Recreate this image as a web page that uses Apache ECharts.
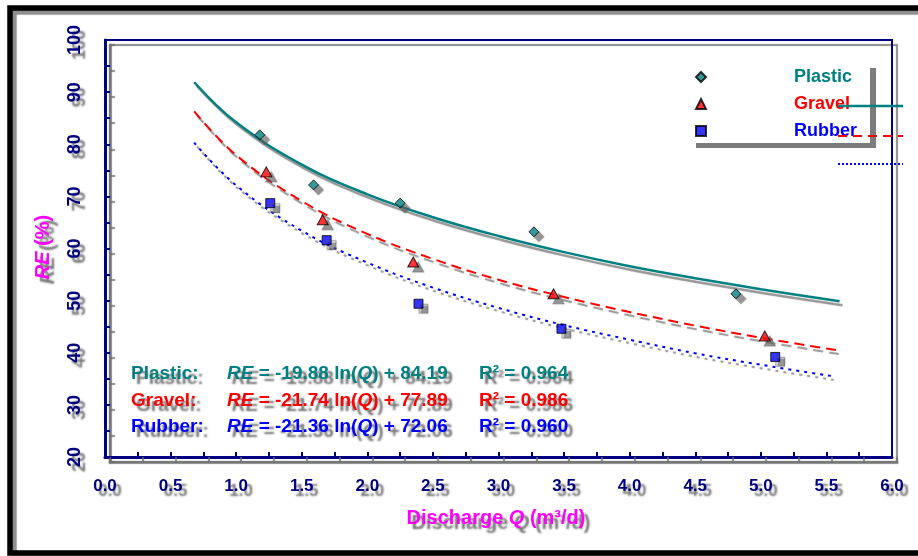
<!DOCTYPE html>
<html>
<head>
<meta charset="utf-8">
<script src="https://cdn.jsdelivr.net/npm/echarts@6/dist/echarts.min.js"></script>
<style>
html,body{margin:0;padding:0;background:#fff;}
#chart{width:918px;height:556px;}
</style>
</head>
<body>
<div id="chart"></div>
<script>
// ---- data ----
const seriesNames = ['Plastic', 'Gravel', 'Rubber'];
const plasticQ  = [1.18, 1.59, 2.25, 3.27, 4.81];
const plasticRE = [81.8, 72.2, 68.7, 63.2, 51.3];
const gravelQ   = [1.23, 1.66, 2.35, 3.42, 5.03];
const gravelRE  = [74.7, 65.5, 57.4, 51.3, 43.2];
const rubberQ   = [1.26, 1.69, 2.39, 3.48, 5.11];
const rubberRE  = [68.7, 61.6, 49.4, 44.6, 39.2];

// trend curves
const plasticFitQ  = [0.68, 1.0, 1.5, 2.0, 2.5, 3.0, 3.5, 4.0, 4.5, 5.0, 5.6];
const plasticFitRE = [91.9, 84.2, 76.1, 70.4, 66.0, 62.4, 59.3, 56.6, 54.3, 52.2, 49.9];
const gravelFitQ   = [0.68, 1.0, 1.5, 2.0, 2.5, 3.0, 3.5, 4.0, 4.5, 5.0, 5.6];
const gravelFitRE  = [86.3, 77.9, 69.1, 62.8, 58.0, 54.0, 50.7, 47.8, 45.2, 42.9, 40.4];
const rubberFitQ   = [0.68, 1.0, 1.5, 2.0, 2.5, 3.0, 3.5, 4.0, 4.5, 5.0, 5.55];
const rubberFitRE  = [80.3, 72.1, 63.4, 57.3, 52.5, 48.6, 45.3, 42.5, 39.9, 37.7, 35.5];

const eqLabels = ['Plastic:', 'Gravel:', 'Rubber:'];
const eqTexts  = ['{i|RE} = -19.88 ln({i|Q}) + 84.19', '{i|RE} = -21.74 ln({i|Q}) + 77.89', '{i|RE} = -21.36 ln({i|Q}) + 72.06'];
const r2Texts  = ['R\u00B2 = 0.964', 'R\u00B2 = 0.986', 'R\u00B2 = 0.960'];

const xMin = 0, xMax = 6, xStep = 0.25;
const yMin = 20, yMax = 100, yStep = 5;

// ---- styles ----
const FONT = '"Liberation Sans", Arial, sans-serif';
const NAVY = '#000080';
const colors = ['#008080', '#ff0000', '#0000ff'];
const SH = { textShadowColor: 'rgba(80,80,80,0.8)', textShadowOffsetX: 5, textShadowOffsetY: 5, textShadowBlur: 2 };

function pairs(xs, ys) { return xs.map((x, i) => [x, ys[i]]); }

const markerShadow = { shadowColor: 'rgba(90,90,90,0.8)', shadowOffsetX: 5, shadowOffsetY: 5, shadowBlur: 1 };
const lineShadow = { shadowColor: 'rgba(120,120,120,0.8)', shadowOffsetX: 3, shadowOffsetY: 4, shadowBlur: 1 };

const chart = echarts.init(document.getElementById('chart'), null, { renderer: 'canvas' });

const graphics = [
  // outer frame
  { type: 'rect', z: 1, shape: { x: 10, y: 8, width: 940, height: 545 },
    style: { fill: null, stroke: '#000', lineWidth: 5.5, shadowColor: 'rgba(0,0,0,0.45)', shadowOffsetX: 4, shadowOffsetY: 4, shadowBlur: 1 } },
  // y axis title
  { type: 'text', z: 50, x: 43, y: 247, rotation: Math.PI / 2,
    style: Object.assign({ text: '{i|RE} (%)', font: 'bold 20px ' + FONT, fill: '#ff00ff', align: 'center', verticalAlign: 'middle',
      rich: { i: { fontStyle: 'italic', fontWeight: 'bold', fontSize: 20, fontFamily: FONT, fill: '#ff00ff' } } }, SH) },
  // x axis title
  { type: 'text', z: 50, x: 496, y: 518,
    style: Object.assign({ text: 'Discharge {i|Q} (m\u00B3/d)', font: 'bold 20px ' + FONT, fill: '#ff00ff', align: 'center', verticalAlign: 'middle',
      rich: { i: { fontStyle: 'italic', fontWeight: 'bold', fontSize: 20, fontFamily: FONT, fill: '#ff00ff' } } }, SH) },
  // displaced legend line samples
  { type: 'line', z: 100, shape: { x1: 838, y1: 106, x2: 903, y2: 106 }, style: { stroke: colors[0], lineWidth: 2.5 } },
  { type: 'line', z: 100, shape: { x1: 838, y1: 136, x2: 903, y2: 136 }, style: { stroke: colors[1], lineWidth: 2, lineDash: [9, 6] } },
  { type: 'line', z: 100, shape: { x1: 838, y1: 164, x2: 903, y2: 164 }, style: { stroke: colors[2], lineWidth: 2, lineDash: [2, 2] } }
];

const rowY = [374, 401, 427];
for (let i = 0; i < 3; i++) {
  const base = { font: 'bold 19px ' + FONT, fill: colors[i], align: 'left', verticalAlign: 'middle' };
  graphics.push({ type: 'text', z: 50, x: 131, y: rowY[i], style: Object.assign({ text: eqLabels[i] }, base, SH) });
  graphics.push({ type: 'text', z: 50, x: 227, y: rowY[i], style: Object.assign({ text: eqTexts[i],
    rich: { i: { fontStyle: 'italic', fontWeight: 'bold', fontSize: 19, fontFamily: FONT, fill: colors[i] } } }, base, SH) });
  graphics.push({ type: 'text', z: 50, x: 479, y: rowY[i], style: Object.assign({ text: r2Texts[i] }, base, SH) });
}

const option = {
  backgroundColor: '#fff',
  animation: false,
  textStyle: { fontFamily: FONT },
  grid: {
    left: 105, top: 40, right: 26, bottom: 99,
    show: true, backgroundColor: 'transparent', borderColor: NAVY, borderWidth: 2,
    shadowColor: 'rgba(110,110,110,0.8)', shadowOffsetX: 5, shadowOffsetY: 5, shadowBlur: 1
  },
  legend: {
    orient: 'vertical', left: 690, top: 63,
    backgroundColor: '#fff', padding: [5, 13, 3, 5],
    shadowColor: 'rgba(110,110,110,0.9)', shadowOffsetX: 6, shadowOffsetY: 5, shadowBlur: 0,
    itemWidth: 10, itemHeight: 10, itemGap: 9,
    itemStyle: { shadowColor: 'transparent', shadowBlur: 0, shadowOffsetX: 0, shadowOffsetY: 0 },
    textStyle: { fontSize: 18, fontWeight: 'bold', fontFamily: FONT, lineHeight: 18, padding: [0, 0, 0, 83] },
    data: seriesNames.map((n, i) => ({ name: n, textStyle: { color: colors[i] } }))
  },
  xAxis: {
    type: 'value', min: xMin, max: xMax, interval: xStep,
    axisLine: { lineStyle: { color: NAVY, width: 3, shadowColor: 'rgba(110,110,110,0.8)', shadowOffsetX: 5, shadowOffsetY: 5, shadowBlur: 1 } },
    axisTick: { inside: true, length: 5, lineStyle: { color: NAVY, width: 2, shadowColor: 'rgba(110,110,110,0.8)', shadowOffsetX: 5, shadowOffsetY: 5, shadowBlur: 1 } },
    splitLine: { show: false },
    axisLabel: Object.assign({
      color: NAVY, fontSize: 17, fontWeight: 'bold', fontFamily: FONT, margin: 21,
      formatter: v => (Math.abs(v * 2 - Math.round(v * 2)) < 1e-6 ? v.toFixed(1) : '')
    }, SH)
  },
  yAxis: {
    type: 'value', min: yMin, max: yMax, interval: yStep,
    axisLine: { show: true, lineStyle: { color: NAVY, width: 3, shadowColor: 'rgba(110,110,110,0.8)', shadowOffsetX: 5, shadowOffsetY: 5, shadowBlur: 1 } },
    axisTick: { show: true, inside: true, length: 5, lineStyle: { color: NAVY, width: 2, shadowColor: 'rgba(110,110,110,0.8)', shadowOffsetX: 5, shadowOffsetY: 5, shadowBlur: 1 } },
    splitLine: { show: false },
    axisLabel: Object.assign({
      color: NAVY, fontSize: 18, fontWeight: 'bold', fontFamily: FONT, margin: 21, rotate: 90,
      formatter: v => (v % 10 === 0 ? String(v) : '')
    }, SH)
  },
  graphic: graphics,
  series: [
    { name: 'Plastic fit', type: 'line', data: pairs(plasticFitQ, plasticFitRE), smooth: 0.4, symbol: 'none', z: 3,
      lineStyle: Object.assign({ color: colors[0], width: 2.5 }, lineShadow) },
    { name: 'Gravel fit', type: 'line', data: pairs(gravelFitQ, gravelFitRE), smooth: 0.4, symbol: 'none', z: 3,
      lineStyle: Object.assign({ color: colors[1], width: 2, type: [10, 6] }, lineShadow) },
    { name: 'Rubber fit', type: 'line', data: pairs(rubberFitQ, rubberFitRE), smooth: 0.4, symbol: 'none', z: 3,
      lineStyle: Object.assign({ color: colors[2], width: 2, type: [3, 5] }, lineShadow) },
    { name: 'Plastic', type: 'scatter', data: pairs(plasticQ, plasticRE), symbol: 'diamond', symbolSize: 10, z: 5,
      itemStyle: Object.assign({ color: colors[0], borderColor: '#000', borderWidth: 1 }, markerShadow) },
    { name: 'Gravel', type: 'scatter', data: pairs(gravelQ, gravelRE), symbol: 'triangle', symbolSize: [11, 10], z: 5,
      itemStyle: Object.assign({ color: colors[1], borderColor: '#000', borderWidth: 1 }, markerShadow) },
    { name: 'Rubber', type: 'scatter', data: pairs(rubberQ, rubberRE), symbol: 'rect', symbolSize: 9, z: 5,
      itemStyle: Object.assign({ color: colors[2], borderColor: '#000', borderWidth: 1 }, markerShadow) }
  ]
};
chart.setOption(option);
</script>
</body>
</html>
